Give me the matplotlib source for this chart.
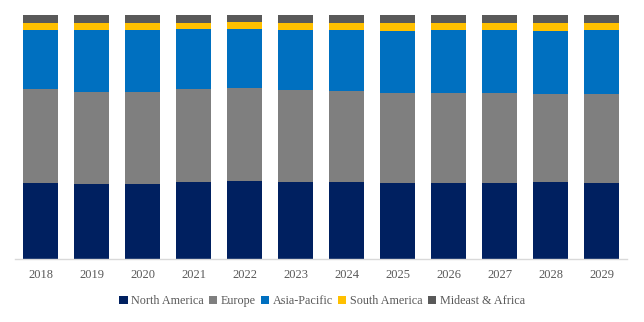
import numpy as np
import matplotlib
matplotlib.use("Agg")
import matplotlib.pyplot as plt

years = ["2018", "2019", "2020", "2021", "2022", "2023", "2024", "2025", "2026", "2027", "2028", "2029"]
regions = ["North America", "Europe", "Asia-Pacific", "South America", "Mideast & Africa"]

north_america = [31.1, 30.7, 30.7, 31.6, 32.0, 31.6, 31.6, 31.1, 31.1, 31.1, 31.6, 31.1]
europe = [38.5, 37.7, 37.7, 38.1, 38.1, 37.7, 37.3, 36.9, 36.9, 36.9, 36.1, 36.5]
asia_pacific = [24.2, 25.4, 25.4, 24.6, 24.2, 24.6, 25.0, 25.4, 25.8, 25.8, 25.8, 26.2]
south_america = [2.9, 2.9, 2.9, 2.5, 2.9, 2.9, 2.9, 3.3, 2.9, 2.9, 3.3, 2.9]
mideast_africa = [3.3, 3.3, 3.3, 3.3, 2.9, 3.3, 3.3, 3.3, 3.3, 3.3, 3.3, 3.3]

colors = ["#002060", "#7F7F7F", "#0070C0", "#FFC000", "#595959"]

plt.rcParams['font.family'] = ['Liberation Serif', 'DejaVu Serif']

series = [north_america, europe, asia_pacific, south_america, mideast_africa]
data = np.array(series, dtype=float)
data = data / data.sum(axis=0) * 100

fig = plt.figure(figsize=(6.44, 3.22), dpi=100)
ax = fig.add_axes([15 / 644, 63 / 322, 612 / 644, 244 / 322])

x = np.arange(len(years))
bottom = np.zeros(len(years))
for name, vals, c in zip(regions, data, colors):
    ax.bar(x, vals, width=0.686, bottom=bottom, color=c, label=name)
    bottom += vals

ax.set_xlim(-0.5, len(years) - 0.5)
ax.set_ylim(0, 100)
ax.set_yticks([])
ax.set_xticks(x)
ax.set_xticklabels(years, fontsize=9, color="#595959")
ax.tick_params(axis="x", length=0, pad=7)
for s in ["top", "right", "left"]:
    ax.spines[s].set_visible(False)
ax.spines["bottom"].set_color("#D9D9D9")
ax.spines["bottom"].set_linewidth(1)

leg = fig.legend(loc="center", bbox_to_anchor=(0.5, 21 / 322), ncol=5, frameon=False,
                 fontsize=8.7, handlelength=0.7, handleheight=0.7, handletextpad=0.3,
                 columnspacing=0.4, labelcolor="#595959")

fig.savefig("out.png", dpi=100)
